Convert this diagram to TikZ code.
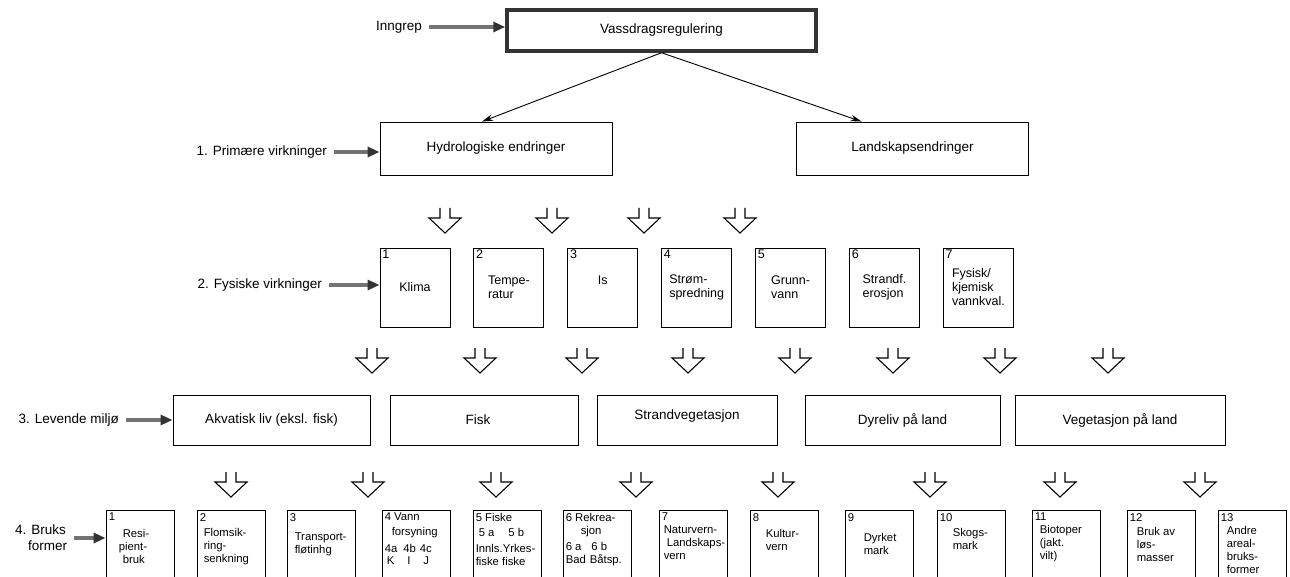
\documentclass[tikz,border=0pt]{standalone}
\usepackage{fontspec}
\setmainfont{Liberation Sans}
\usetikzlibrary{positioning}
\usetikzlibrary{arrows.meta}

\newcommand{\bigtxt}{\fontsize{13.5}{16}\selectfont}
\newcommand{\midtxt}{\fontsize{12.5}{14}\selectfont}
\newcommand{\smalltxt}{\fontsize{11.3}{13}\selectfont}

\begin{document}
\begin{tikzpicture}[x=1pt,y=-1pt,
  box/.style={draw,line width=0.9pt,inner sep=0pt},
  topbox/.style={draw=black!80,line width=3.5pt,minimum width=309,minimum height=41,font=\bigtxt},
  virkbox/.style={box,minimum width=232,minimum height=53,font=\bigtxt},
  fysbox/.style={box,minimum width=70,minimum height=79,align=left,font=\midtxt},
  livbox/.style={box,minimum height=50,font=\bigtxt},
  brukbox/.style={box,minimum width=68,minimum height=80,anchor=north},
  brukt/.style={anchor=north west,inner sep=0pt,align=left,font=\smalltxt},
  nr/.style={anchor=north west,inner sep=2.5pt,font=\midtxt},
  lbl/.style={inner sep=0pt,font=\bigtxt},
  fat/.style={line width=3.4pt,draw=black!55,-{Triangle[length=12pt,width=10pt,color=black!80]},shorten <=7pt},
  pil/.style={line width=0.9pt,-{Stealth[length=11pt,width=6.5pt]}},
  hollow/.pic={\draw[line width=1.1pt] (-5,0) -- (-5,10) -- (-16,10) -- (0,25) -- (16,10) -- (5,10) -- (5,0);}
]
 \clip (0,0) rectangle (1290,577);

 % inngrep
 \node[topbox] (regulering) at (661.5,30.5) {Vassdragsregulering};
 \node[lbl,anchor=east] (inngrep) at (422,27) {Inngrep};
 \draw[fat] (inngrep.east) -- (inngrep.east -| regulering.west);

 % 1. primaere virkninger
 \node[virkbox] (hydro) at (496,148.5) {Hydrologiske endringer};
 \node[virkbox] (landskap) at (912.5,148.5) {Landskapsendringer};
 \node[lbl,anchor=east] (prim) at (327,152) {1. Primære virkninger};
 \draw[fat] (prim.east) -- (prim.east -| hydro.west);
 \coordinate (hydrotop) at ([xshift=-14pt]hydro.north);
 \coordinate (landtop) at ([xshift=-51pt]landskap.north);
 \draw[pil] (regulering.south) -- (hydrotop);
 \draw[pil] (regulering.south) -- (landtop);

 \pic at (445,208) {hollow};
 \pic at (552,208) {hollow};
 \pic at (644,208) {hollow};
 \pic at (740,208) {hollow};

 % 2. fysiske virkninger
 \node[fysbox,label={[nr]north west:1}] (f1) at (415,287.5) {Klima};
 \node[fysbox,label={[nr]north west:2},right=23pt of f1] (f2) {Tempe-\\ratur};
 \node[fysbox,label={[nr]north west:3},right=23pt of f2] (f3) {Is\\\mbox{}};
 \node[fysbox,label={[nr]north west:4},right=23pt of f3] (f4) {Strøm-\\spredning};
 \node[fysbox,label={[nr]north west:5},right=23pt of f4] (f5) {Grunn-\\vann};
 \node[fysbox,label={[nr]north west:6},right=23pt of f5] (f6) {Strandf.\\erosjon};
 \node[fysbox,label={[nr]north west:7},right=23pt of f6] (f7) {Fysisk/\\kjemisk\\vannkval.};
 \node[lbl,anchor=east] (fys) at (322,285) {2. Fysiske virkninger};
 \draw[fat] (fys.east) -- (fys.east -| f1.west);

 \pic at (372,348) {hollow};
 \pic at (480,348) {hollow};
 \pic at (582,348) {hollow};
 \pic at (688,348) {hollow};
 \pic at (795,348) {hollow};
 \pic at (893,348) {hollow};
 \pic at (1000,348) {hollow};
 \pic at (1108,348) {hollow};

 % 3. levende miljo
 \node[livbox,minimum width=197] (akvatisk) at (271.5,420) {Akvatisk liv (eksl. fisk)};
 \node[livbox,minimum width=188] (fisk) at (484,420) {\hspace*{-12pt}Fisk};
 \node[livbox,minimum width=180] (strandveg) at (687,420) {\raisebox{10pt}{Strandvegetasjon}};
 \node[livbox,minimum width=195] (dyreliv) at (902.5,420) {Dyreliv på land};
 \node[livbox,minimum width=210] (vegland) at (1120,420) {Vegetasjon på land};
 \node[lbl,anchor=east] (lev) at (119,420) {3. Levende miljø};
 \draw[fat] (lev.east) -- (lev.east -| akvatisk.west);

 \pic at (231,472) {hollow};
 \pic at (368,472) {hollow};
 \pic at (496,472) {hollow};
 \pic at (636,472) {hollow};
 \pic at (778,472) {hollow};
 \pic at (930,472) {hollow};
 \pic at (1060,472) {hollow};
 \pic at (1200,472) {hollow};

 % 4. bruksformer
 \node[brukbox] (b1) at (140,510) {};
 \node[brukbox] (b2) at (231,510) {};
 \node[brukbox] (b3) at (321,510) {};
 \node[brukbox] (b4) at (416,510) {};
 \node[brukbox] (b5) at (507,510) {};
 \node[brukbox] (b6) at (597,510) {};
 \node[brukbox] (b7) at (693,510) {};
 \node[brukbox] (b8) at (784,510) {};
 \node[brukbox] (b9) at (879,510) {};
 \node[brukbox] (b10) at (971,510) {};
 \node[brukbox] (b11) at (1066,510) {};
 \node[brukbox] (b12) at (1161,510) {};
 \node[brukbox] (b13) at (1252,510) {};
 \node[brukt] (b1t) at ([shift={(3,3)}]b1.north west) {1\\[4pt]\hspace*{14pt}Resi-\\\hspace*{10pt}pient-\\\hspace*{14pt}bruk};
 \node[brukt] (b2t) at ([shift={(3,3)}]b2.north west) {2\\[2pt]\hspace*{4pt}Flomsik-\\\hspace*{4pt}ring-\\\hspace*{4pt}senkning};
 \node[brukt] (b3t) at ([shift={(3,3)}]b3.north west) {3\\[6pt]\hspace*{5pt}Transport-\\\hspace*{5pt}fløtinhg};
 \node[brukt] (b4t) at ([shift={(3,3)}]b4.north west) {4 Vann\\[2pt]\hspace*{7pt}forsyning\\[4pt]4a\hspace{6pt}4b\hspace{4pt}4c\\[-1pt]\hspace*{2pt}K\hspace{13pt}I\hspace{13pt}J};
 \node[brukt] (b5t) at ([shift={(3,3)}]b5.north west) {5 Fiske\\[2pt]\hspace*{3pt}5 a\hspace{14pt}5 b\\[3pt]Innls.Yrkes-\\fiske fiske};
 \node[brukt] (b6t) at ([shift={(3,3)}]b6.north west) {6 Rekrea-\\\hspace*{15pt}sjon\\[3pt]6 a\hspace{10pt}6 b\\Bad\hspace{4pt}Båtsp.};
 \node[brukt] (b7t) at ([shift={(3,3)}]b7.north west) {7\\\hspace*{2pt}Naturvern-\\\hspace*{5pt}Landskaps-\\\hspace*{2pt}vern};
 \node[brukt] (b8t) at ([shift={(3,3)}]b8.north west) {8\\[3pt]\hspace*{13pt}Kultur-\\\hspace*{13pt}vern};
 \node[brukt] (b9t) at ([shift={(3,3)}]b9.north west) {9\\[7pt]\hspace*{16pt}Dyrket\\\hspace*{16pt}mark};
 \node[brukt] (b10t) at ([shift={(3,3)}]b10.north west) {10\\[2pt]\hspace*{13pt}Skogs-\\\hspace*{13pt}mark};
 \node[brukt] (b11t) at ([shift={(3,3)}]b11.north west) {11\\\hspace*{5pt}Biotoper\\\hspace*{5pt}(jakt.\\\hspace*{5pt}vilt)};
 \node[brukt] (b12t) at ([shift={(3,3)}]b12.north west) {12\\[1pt]\hspace*{7pt}Bruk av\\\hspace*{7pt}løs-\\\hspace*{7pt}masser};
 \node[brukt] (b13t) at ([shift={(3,3)}]b13.north west) {13\\\hspace*{6pt}Andre\\\hspace*{6pt}areal-\\\hspace*{6pt}bruks-\\\hspace*{6pt}former};
 \node[lbl,anchor=west,align=left] (bruk) at (15,538) {4. Bruks\\\hspace*{13pt}former};
 \draw[fat] (bruk.east) -- (bruk.east -| b1.west);
\end{tikzpicture}
\end{document}
